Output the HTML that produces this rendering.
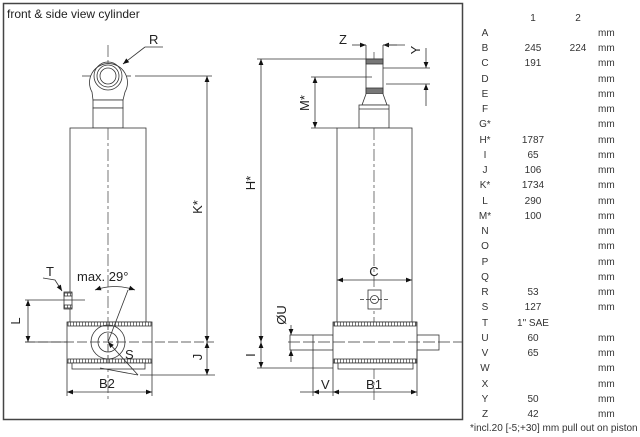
<!DOCTYPE html>
<html><head><meta charset="utf-8"><style>
html,body{margin:0;padding:0;background:#fff;}
svg{display:block}
text{font-family:"Liberation Sans",sans-serif;}
</style></head><body>
<svg width="640" height="437" viewBox="0 0 640 437" xmlns="http://www.w3.org/2000/svg">
<defs>
<marker id="a" viewBox="0 0 10 10" refX="10" refY="5" markerWidth="9" markerHeight="6" orient="auto-start-reverse" markerUnits="userSpaceOnUse"><path d="M0,1 L10,5 L0,9 z" fill="#111"/></marker>
<pattern id="h" width="3" height="4" patternUnits="userSpaceOnUse"><rect width="3" height="4" fill="#fff"/><line x1="1.5" y1="0" x2="1.5" y2="4" stroke="#555" stroke-width="0.8"/></pattern>
</defs>
<rect x="3.5" y="3.5" width="459" height="416" fill="none" stroke="#444" stroke-width="1.5"/>
<text x="7" y="18" font-size="12" fill="#222">front &amp; side view cylinder</text>

<g stroke="#333" stroke-width="0.8" fill="none">
<!-- FRONT VIEW -->
<line x1="108" y1="45" x2="108" y2="400" stroke-dasharray="12,3,3,3" stroke="#555"/>
<line x1="82" y1="76" x2="134" y2="76" stroke-dasharray="10,3"/>
<path d="M92,92 A19,19 0 1 1 125,92 L123,100 L93,100 Z" fill="#fff"/>
<circle cx="108" cy="76" r="14"/><circle cx="108" cy="76" r="11"/><circle cx="108" cy="76" r="8"/>
<rect x="93" y="100" width="30" height="8" fill="#fff"/>
<rect x="93" y="108" width="30" height="20" fill="#fff"/>
<rect x="70" y="128" width="76" height="194" fill="#fff"/>
<line x1="108" y1="128" x2="108" y2="322" stroke-dasharray="12,3,3,3" stroke="#555"/>
<rect x="67" y="322" width="85" height="41" fill="#fff"/>
<rect x="68" y="322" width="83" height="4" fill="url(#h)"/>
<rect x="68" y="359" width="83" height="4" fill="url(#h)"/>
<rect x="72" y="363" width="73" height="6" fill="#fff"/>
<circle cx="108" cy="342" r="17"/><circle cx="108" cy="342" r="10"/>
<line x1="25" y1="342" x2="214" y2="342" stroke-dasharray="10,3"/>
<line x1="108" y1="322" x2="108" y2="363" stroke-dasharray="8,3"/>
<!-- T fitting -->
<rect x="64" y="292" width="8" height="17" fill="#fff"/>
<rect x="64" y="293" width="8" height="3" fill="url(#h)"/><rect x="64" y="305" width="8" height="3" fill="url(#h)"/>
<line x1="25" y1="300" x2="85" y2="300"/>
<path d="M43,278 L55,280 L62,291" marker-end="url(#a)"/>
<!-- R leader -->
<line x1="145" y1="47" x2="163" y2="47"/>
<line x1="145" y1="47" x2="123" y2="64" marker-end="url(#a)"/>
<!-- angle -->
<path d="M95,290 Q115,283 135,290" marker-start="url(#a)" marker-end="url(#a)"/>
<line x1="108" y1="342" x2="128" y2="290"/>
<!-- S -->
<line x1="108" y1="342" x2="138" y2="375" marker-start="url(#a)"/>
<line x1="138" y1="375" x2="100" y2="368"/>
<!-- K* -->
<line x1="135" y1="76" x2="212" y2="76"/>
<line x1="207" y1="76" x2="207" y2="342" marker-start="url(#a)" marker-end="url(#a)"/>
<line x1="140" y1="375" x2="215" y2="375"/>
<line x1="207" y1="342" x2="207" y2="375" marker-start="url(#a)" marker-end="url(#a)"/>
<!-- L -->
<line x1="25" y1="342" x2="67" y2="342"/>
<line x1="28" y1="300" x2="28" y2="342" marker-start="url(#a)" marker-end="url(#a)"/>
<!-- B2 -->
<line x1="67" y1="363" x2="67" y2="396"/><line x1="152" y1="363" x2="152" y2="396"/>
<line x1="67" y1="392" x2="152" y2="392" marker-start="url(#a)" marker-end="url(#a)"/>

<!-- SIDE VIEW -->
<line x1="374" y1="52" x2="374" y2="400" stroke-dasharray="12,3,3,3" stroke="#555"/>
<rect x="366" y="59" width="17" height="40" fill="#fff"/>
<rect x="366" y="59" width="17" height="5" fill="#777"/>
<rect x="366" y="88" width="17" height="6" fill="#777"/>
<path d="M366,94 L362,105 L387,105 L383,94" fill="#fff"/>
<rect x="359" y="105" width="30" height="23" fill="#fff"/>
<line x1="359" y1="109" x2="389" y2="109"/>
<rect x="337" y="128" width="75" height="194" fill="#fff"/>
<line x1="374" y1="128" x2="374" y2="322" stroke-dasharray="12,3,3,3" stroke="#555"/>
<rect x="290" y="335" width="43" height="15" fill="#fff"/>
<line x1="313" y1="335" x2="313" y2="350"/>
<rect x="417" y="335" width="22" height="15" fill="#fff"/>
<rect x="333" y="322" width="84" height="41" fill="#fff"/>
<rect x="334" y="322" width="82" height="4" fill="url(#h)"/>
<rect x="334" y="359" width="82" height="4" fill="url(#h)"/>
<rect x="338" y="363" width="75" height="6" fill="#fff"/>
<line x1="288" y1="342" x2="462" y2="342" stroke-dasharray="12,3"/>
<!-- port -->
<rect x="368" y="290" width="13" height="19" fill="#fff"/>
<circle cx="374.5" cy="299.5" r="4"/>
<line x1="360" y1="299.5" x2="390" y2="299.5" stroke-dasharray="4,2"/>
<!-- Z -->
<line x1="366" y1="45" x2="366" y2="59"/><line x1="383" y1="45" x2="383" y2="59"/>
<line x1="352" y1="45" x2="366" y2="45" marker-end="url(#a)"/>
<line x1="397" y1="45" x2="383" y2="45" marker-end="url(#a)"/>
<line x1="383" y1="45" x2="405" y2="45"/>
<!-- Y -->
<line x1="383" y1="68" x2="430" y2="68"/><line x1="386" y1="84" x2="430" y2="84"/>
<line x1="426" y1="48" x2="426" y2="68" marker-end="url(#a)"/>
<line x1="426" y1="106" x2="426" y2="84" marker-end="url(#a)"/>
<!-- M* -->
<line x1="311" y1="77" x2="372" y2="77"/>
<line x1="311" y1="128" x2="337" y2="128"/>
<line x1="315" y1="77" x2="315" y2="128" marker-start="url(#a)" marker-end="url(#a)"/>
<!-- H* -->
<line x1="257" y1="59" x2="366" y2="59"/>
<line x1="261" y1="59" x2="261" y2="342" marker-start="url(#a)" marker-end="url(#a)"/>
<!-- I -->
<line x1="257" y1="368" x2="333" y2="368"/>
<line x1="261" y1="342" x2="261" y2="368" marker-start="url(#a)" marker-end="url(#a)"/>
<!-- C -->
<line x1="337" y1="280" x2="412" y2="280" marker-start="url(#a)" marker-end="url(#a)"/>
<!-- ØU -->
<line x1="291" y1="325" x2="291" y2="335" marker-end="url(#a)"/>
<line x1="291" y1="362" x2="291" y2="350" marker-end="url(#a)"/>
<!-- V / B1 -->
<line x1="313" y1="350" x2="313" y2="396"/>
<line x1="333" y1="363" x2="333" y2="396"/><line x1="417" y1="350" x2="417" y2="396"/>
<line x1="300" y1="392" x2="313" y2="392"/>
<line x1="333" y1="392" x2="313" y2="392" marker-end="url(#a)"/>
<line x1="333" y1="392" x2="417" y2="392" marker-start="url(#a)" marker-end="url(#a)"/>
</g>

<g font-size="13" fill="#222">
<text x="149" y="44">R</text>
<text x="46" y="276">T</text>
<text x="77" y="281">max.  29°</text>
<text x="125" y="359">S</text>
<text x="99" y="388">B2</text>
<text x="202" y="207" transform="rotate(-90 202 207)" text-anchor="middle">K*</text>
<text x="202" y="357" transform="rotate(-90 202 357)" text-anchor="middle">J</text>
<text x="20" y="321" transform="rotate(-90 20 321)" text-anchor="middle">L</text>
<text x="339" y="44">Z</text>
<text x="420" y="50" transform="rotate(-90 420 50)" text-anchor="middle">Y</text>
<text x="309" y="103" transform="rotate(-90 309 103)" text-anchor="middle">M*</text>
<text x="255" y="183" transform="rotate(-90 255 183)" text-anchor="middle">H*</text>
<text x="255" y="355" transform="rotate(-90 255 355)" text-anchor="middle">I</text>
<text x="374" y="276" text-anchor="middle">C</text>
<text x="286" y="315" transform="rotate(-90 286 315)" text-anchor="middle">ØU</text>
<text x="321" y="389">V</text>
<text x="374" y="389" text-anchor="middle">B1</text>
</g>

<g font-size="10" fill="#333">
<text x="533" y="21" text-anchor="middle">1</text>
<text x="578" y="21" text-anchor="middle">2</text>
<g text-anchor="middle">
<text x="485" y="36">A</text><text x="485" y="51">B</text><text x="485" y="66">C</text><text x="485" y="82">D</text><text x="485" y="97">E</text><text x="485" y="112">F</text><text x="485" y="127">G*</text><text x="485" y="143">H*</text><text x="485" y="158">I</text><text x="485" y="173">J</text><text x="485" y="188">K*</text><text x="485" y="204">L</text><text x="485" y="219">M*</text><text x="485" y="234">N</text><text x="485" y="249">O</text><text x="485" y="265">P</text><text x="485" y="280">Q</text><text x="485" y="295">R</text><text x="485" y="310">S</text><text x="485" y="326">T</text><text x="485" y="341">U</text><text x="485" y="356">V</text><text x="485" y="371">W</text><text x="485" y="387">X</text><text x="485" y="402">Y</text><text x="485" y="417">Z</text>
<text x="533" y="51">245</text><text x="578" y="51">224</text>
<text x="533" y="66">191</text><text x="533" y="143">1787</text><text x="533" y="158">65</text><text x="533" y="173">106</text><text x="533" y="188">1734</text><text x="533" y="204">290</text><text x="533" y="219">100</text>
<text x="533" y="295">53</text><text x="533" y="310">127</text><text x="533" y="326">1" SAE</text><text x="533" y="341">60</text><text x="533" y="356">65</text><text x="533" y="402">50</text><text x="533" y="417">42</text>
</g>
<g>
<text x="598" y="36">mm</text><text x="598" y="51">mm</text><text x="598" y="66">mm</text><text x="598" y="82">mm</text><text x="598" y="97">mm</text><text x="598" y="112">mm</text><text x="598" y="127">mm</text><text x="598" y="143">mm</text><text x="598" y="158">mm</text><text x="598" y="173">mm</text><text x="598" y="188">mm</text><text x="598" y="204">mm</text><text x="598" y="219">mm</text><text x="598" y="234">mm</text><text x="598" y="249">mm</text><text x="598" y="265">mm</text><text x="598" y="280">mm</text><text x="598" y="295">mm</text><text x="598" y="310">mm</text><text x="598" y="341">mm</text><text x="598" y="356">mm</text><text x="598" y="371">mm</text><text x="598" y="387">mm</text><text x="598" y="402">mm</text><text x="598" y="417">mm</text>
</g>
<text x="470" y="431">*incl.20 [-5;+30] mm pull out on piston</text>
</g>
</svg>
</body></html>
